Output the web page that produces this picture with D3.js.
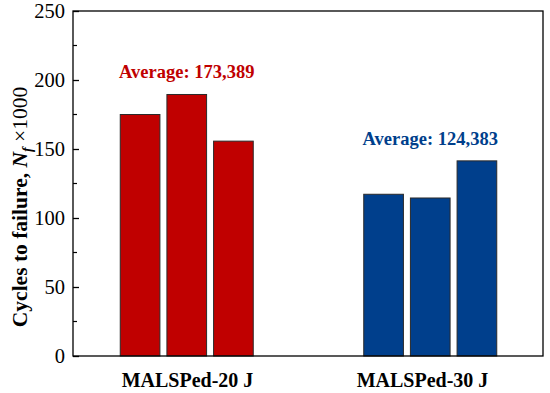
<!DOCTYPE html>
<html>
<head>
<meta charset="utf-8">
<script src="https://cdn.jsdelivr.net/npm/d3@7"></script>
<style>
  body { margin: 0; background: #fff; }
  text { font-family: "Liberation Serif", "Times New Roman", serif; }
</style>
</head>
<body>
<div id="chart"></div>
<script>
// data
const groups = ["MALSPed-20 J", "MALSPed-30 J"];
const specimens = ["s1", "s2", "s3"];
const cycles20 = [175.0, 189.5, 155.7];
const cycles30 = [117.2, 114.5, 141.4];
const averageLabels = ["Average: 173,389", "Average: 124,383"];
const groupColors = ["#c00000", "#003f8c"];
const yTicks = [0, 50, 100, 150, 200, 250];

const width = 550, height = 393;
const margin = { top: 11, right: 7, bottom: 37, left: 73 };
const innerW = width - margin.left - margin.right;
const innerH = height - margin.top - margin.bottom;

const svg = d3.select("#chart")
    .append("svg")
    .attr("width", width)
    .attr("height", height);

const g = svg.append("g")
    .attr("transform", `translate(${margin.left},${margin.top})`);

const y = d3.scaleLinear()
    .domain([0, 250])
    .range([innerH, 0]);

// category positions for the labels, and slightly wider spread for the bars
const xLabel = d3.scaleBand()
    .domain(groups)
    .range([-3, innerW - 3]);

const xGroup = d3.scaleBand()
    .domain(groups)
    .range([-8, innerW + 9]);

const xBar = d3.scaleBand()
    .domain(specimens)
    .range([-66.5, 66.5])
    .paddingInner(0.15);

const series = [cycles20, cycles30];

groups.forEach((grp, i) => {
    const cx = xGroup(grp) + xGroup.bandwidth() / 2;
    const vals = series[i];

    g.selectAll(".bar-" + i)
        .data(vals)
        .enter()
        .append("rect")
        .attr("class", "bar-" + i)
        .attr("x", (d, j) => cx + xBar(specimens[j]))
        .attr("y", d => y(d))
        .attr("width", xBar.bandwidth())
        .attr("height", d => innerH - y(d))
        .style("fill", groupColors[i])
        .style("stroke", "#2a2a2a")
        .style("stroke-width", 1);

    g.append("text")
        .attr("x", cx)
        .attr("y", y(d3.max(vals)) - 16)
        .text(averageLabels[i])
        .style("text-anchor", "middle")
        .style("font-size", "18.5px")
        .style("font-weight", "bold")
        .style("fill", groupColors[i]);

    g.append("text")
        .attr("x", xLabel(grp) + xLabel.bandwidth() / 2)
        .attr("y", innerH + 31)
        .text(grp)
        .style("text-anchor", "middle")
        .style("font-size", "20px")
        .style("font-weight", "bold")
        .style("fill", "#000");
});

// frame
g.append("rect")
    .attr("width", innerW)
    .attr("height", innerH)
    .style("fill", "none")
    .style("stroke", "#000")
    .style("stroke-width", 1.3);

// y axis, ticks pointing inward
const yAxis = g.append("g")
    .call(d3.axisLeft(y).tickValues(yTicks).tickSize(-6).tickPadding(8).tickFormat(d3.format("d")));
yAxis.select(".domain").remove();
yAxis.selectAll("text")
    .style("font-size", "20.5px")
    .style("font-family", "Liberation Serif, serif")
    .style("fill", "#000");
yAxis.selectAll("line").style("stroke", "#000").style("stroke-width", 1.3);

const minorTicks = d3.range(25, 250, 50);
g.selectAll(".minor")
    .data(minorTicks)
    .enter()
    .append("line")
    .attr("x1", 0)
    .attr("x2", 4)
    .attr("y1", d => y(d))
    .attr("y2", d => y(d))
    .style("stroke", "#000")
    .style("stroke-width", 1.2);

// y axis title
const yTitle = svg.append("text")
    .attr("transform", `translate(27,207) rotate(-90)`)
    .style("text-anchor", "middle")
    .style("font-size", "21.5px")
    .style("font-weight", "bold");
yTitle.append("tspan").text("Cycles to failure, ");
yTitle.append("tspan").text("N").style("font-style", "italic");
yTitle.append("tspan").text("f").style("font-style", "italic").style("font-size", "14px").attr("dy", 5);
yTitle.append("tspan").text(" ×1000").style("font-weight", "normal").attr("dy", -5);
</script>
</body>
</html>
